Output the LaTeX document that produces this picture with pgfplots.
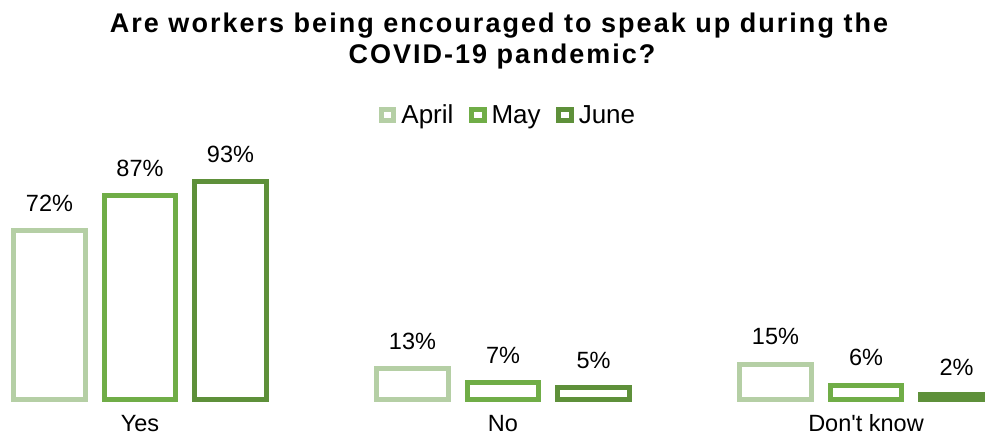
\documentclass[border=0pt]{standalone}
\usepackage{fontspec}
\setmainfont{Liberation Sans}[Ligatures=TeXOff]
\newfontfamily\titlefont{Liberation Sans}[LetterSpace=7.5]
\usepackage{pgfplots}
\pgfplotsset{compat=1.18}
\definecolor{cApr}{RGB}{181,207,165}
\definecolor{cMay}{RGB}{112,173,71}
\definecolor{cJun}{RGB}{94,144,58}
\newcommand{\lblfont}{\fontsize{23.5}{27}\selectfont}
\newcommand{\legfont}{\fontsize{26}{30}\selectfont}
\begin{document}
\begin{tikzpicture}
\begin{axis}[
  at={(0pt,30.8pt)}, anchor=south west,
  scale only axis, width=985pt, height=264.2pt,
  xmin=-0.3857, xmax=2.3278, ymin=-3, ymax=110,
  ybar=19pt, bar width=71.5pt,
  axis line style={draw=none},
  /pgf/number format/assume math mode=true,
  ytick=\empty, xtick={0,1,2}, xticklabels={Yes,No,Don't know},
  major tick length=0pt,
  xticklabel style={anchor=base, inner sep=0pt, text depth=0pt, yshift=-25.5pt, font=\lblfont},
  nodes near coords={\pgfmathprintnumber{\pgfplotspointmeta}\%},
  every node near coord/.append style={font=\lblfont, inner sep=0pt, text depth=0pt, yshift=16.8pt, black},
  legend columns=3,
  legend style={at={(axis description cs:0.5,1)}, anchor=center, yshift=27pt, xshift=15.5pt,
    draw=none, fill=none, font=\legfont,
    /tikz/every even column/.append style={column sep=13.5pt},
    /tikz/every odd column/.append style={column sep=3pt}},
  legend image code/.code={\draw[#1, line width=5pt, fill=white] (0pt,-5.5pt) rectangle (12.6pt,5.5pt);},
]
\addplot[draw=cApr, fill=white, line width=5pt] coordinates {(0,72) (1,13) (2,15)};
\addplot[draw=cMay, fill=white, line width=5pt] coordinates {(0,87) (1,7) (2,6)};
\addplot[draw=cJun, fill=white, line width=5pt] coordinates {(0,93) (1,5) (2,2)};
\legend{April,May,June}
\end{axis}
\node[anchor=base, inner sep=0pt, font=\titlefont\bfseries\fontsize{27}{30}\selectfont] at (499pt,404.7pt) {Are workers being encouraged to speak up during the};
\node[anchor=base, inner sep=0pt, font=\titlefont\bfseries\fontsize{27}{30}\selectfont] at (502pt,373pt) {COVID-19 pandemic?};
\pgfresetboundingbox
\useasboundingbox (0,0) rectangle (985pt,437pt);
\end{tikzpicture}
\end{document}
